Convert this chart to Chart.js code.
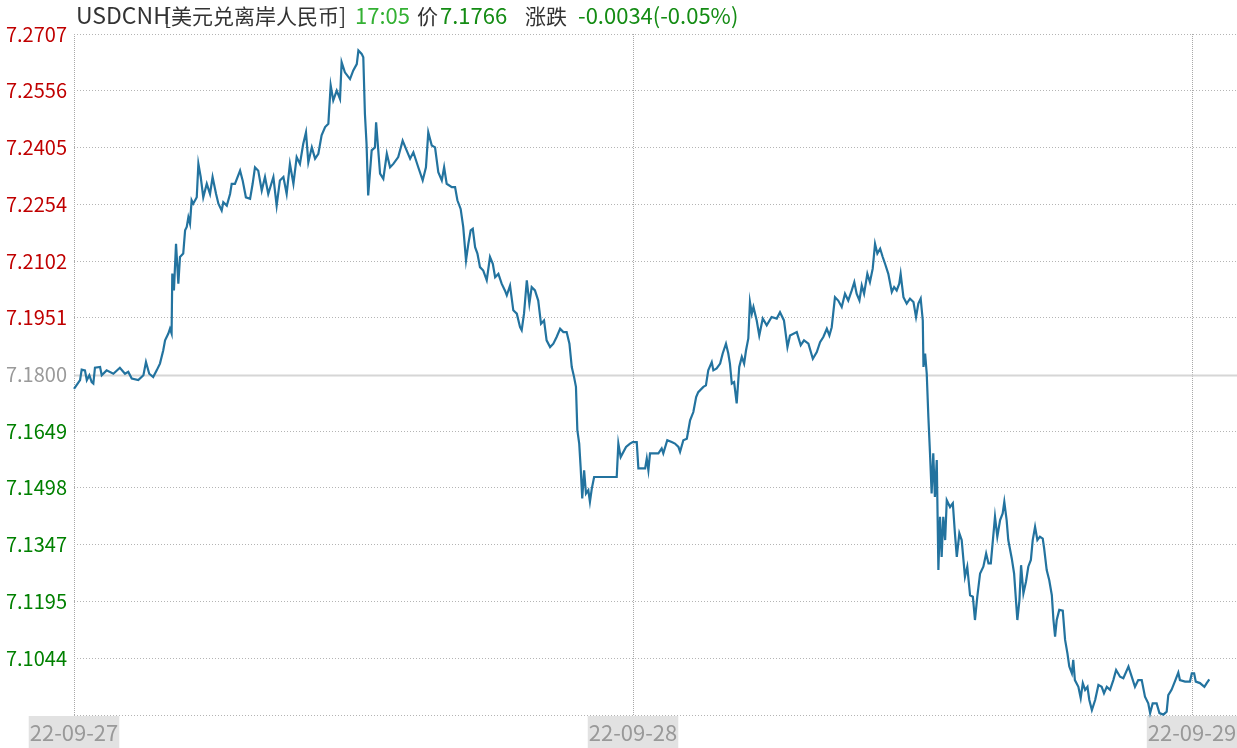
<!DOCTYPE html>
<html lang="zh-CN">
<head>
  <meta charset="UTF-8" />
  <title>USDCNH 美元兑离岸人民币</title>
  <script src="https://cdn.jsdelivr.net/npm/chart.js"></script>
  <style>
    body { margin: 0; background: #fff; }
    #wrap { position: relative; width: 1237px; height: 748px; overflow: hidden; }
    #head {
      position: absolute; left: 76px; top: -3px; height: 34px; line-height: 34px;
      white-space: nowrap; font-family: "Noto Sans CJK SC", sans-serif; font-size: 22px; color: #333;
    }
    #head span { display: inline-block; }
    #head .sym { font-size: 23px; }
    #head .cjk { font-size: 21px; }
    .up { color: #34b134; }
    .dn { color: #148c14; }
  </style>
</head>
<body>
  <div id="wrap">
    <canvas id="fx" width="1237" height="748"></canvas>
    <div id="head">
      <span class="sym" style="width:88px">USDCNH</span><span class="cjk" style="width:191px">[美元兑离岸人民币]</span><span class="up" style="width:62px">17:05</span><span class="cjk" style="width:23px">价</span><span class="dn" style="width:85px">7.1766</span><span class="cjk" style="width:53px">涨跌</span><span class="dn">-0.0034(-0.05%)</span>
    </div>
  </div>

  <script>
    // hours since 22-09-27 00:00
    const hours = [
      0, 0.26, 0.33, 0.47, 0.55, 0.66, 0.76, 0.83, 0.90, 1.12,
      1.19, 1.40, 1.69, 1.97, 2.19, 2.33, 2.48, 2.76, 2.98, 3.09,
      3.23, 3.40, 3.55, 3.69, 3.83, 3.91, 4.05, 4.12, 4.19, 4.22,
      4.29, 4.38, 4.48, 4.55, 4.69, 4.77, 4.84, 4.91, 4.98, 5.05,
      5.12, 5.27, 5.34, 5.44, 5.55, 5.70, 5.84, 5.95, 6.10, 6.20,
      6.34, 6.41, 6.56, 6.70, 6.77, 6.91, 7.13, 7.24, 7.38, 7.56,
      7.67, 7.77, 7.91, 8.06, 8.20, 8.34, 8.56, 8.70, 8.84, 8.99,
      9.13, 9.27, 9.42, 9.56, 9.70, 9.84, 9.96, 10.06, 10.21, 10.35,
      10.49, 10.63, 10.78, 10.92, 11.02, 11.13, 11.28, 11.42, 11.49, 11.63,
      11.85, 11.99, 12.14, 12.21, 12.35, 12.42, 12.49, 12.56, 12.63, 12.78,
      12.92, 12.97, 13.14, 13.28, 13.43, 13.57, 13.71, 13.92, 14.11, 14.28,
      14.43, 14.57, 14.78, 14.97, 15.11, 15.21, 15.36, 15.50, 15.64, 15.79,
      15.89, 16.00, 16.22, 16.36, 16.46, 16.60, 16.71, 16.83, 16.93, 17.03,
      17.12, 17.22, 17.32, 17.43, 17.57, 17.72, 17.86, 17.98, 18.08, 18.22,
      18.36, 18.50, 18.58, 18.72, 18.86, 19.01, 19.15, 19.22, 19.32, 19.44,
      19.55, 19.65, 19.79, 19.93, 20.05, 20.18, 20.29, 20.44, 20.58, 20.72,
      20.87, 21.01, 21.15, 21.27, 21.37, 21.47, 21.55, 21.61, 21.69, 21.75,
      21.82, 21.90, 21.98, 22.08, 22.15, 22.23, 22.33, 23.30, 23.37, 23.47,
      23.70, 23.87, 23.99, 24.16, 24.23, 24.52, 24.59, 24.66, 24.73, 25.09,
      25.23, 25.30, 25.47, 25.66, 25.80, 25.95, 26.02, 26.16, 26.31, 26.45,
      26.59, 26.71, 26.80, 27.02, 27.13, 27.23, 27.38, 27.45, 27.59, 27.74,
      27.85, 27.99, 28.09, 28.16, 28.24, 28.34, 28.45, 28.56, 28.67, 28.77,
      28.85, 28.95, 29.02, 29.10, 29.17, 29.31, 29.42, 29.57, 29.74, 29.95,
      30.17, 30.31, 30.48, 30.63, 30.74, 31.03, 31.20, 31.34, 31.53, 31.72,
      31.89, 32.03, 32.17, 32.32, 32.43, 32.53, 32.67, 32.81, 32.96, 33.10,
      33.24, 33.39, 33.50, 33.60, 33.72, 33.82, 33.92, 34.06, 34.17, 34.29,
      34.39, 34.49, 34.61, 34.72, 34.82, 34.96, 35.11, 35.21, 35.32, 35.43,
      35.49, 35.61, 35.75, 35.89, 36.04, 36.15, 36.25, 36.35, 36.44, 36.47,
      36.54, 36.61, 36.68, 36.75, 36.82, 36.89, 36.96, 37.04, 37.11, 37.18,
      37.25, 37.32, 37.40, 37.47, 37.61, 37.73, 37.82, 37.90, 38.01, 38.11,
      38.25, 38.35, 38.47, 38.59, 38.68, 38.78, 38.90, 39.04, 39.16, 39.26,
      39.36, 39.45, 39.54, 39.64, 39.76, 39.87, 39.94, 40.04, 40.11, 40.26,
      40.36, 40.44, 40.50, 40.59, 40.66, 40.76, 40.87, 40.97, 41.08, 41.16,
      41.26, 41.36, 41.47, 41.59, 41.65, 41.76, 41.87, 41.98, 42.05, 42.12,
      42.19, 42.30, 42.45, 42.55, 42.65, 42.73, 42.84, 42.90, 42.97, 43.12,
      43.22, 43.31, 43.41, 43.51, 43.59, 43.70, 43.84, 43.98, 44.12, 44.22,
      44.34, 44.48, 44.62, 44.74, 44.91, 45.05, 45.27, 45.41, 45.55, 45.69,
      45.84, 45.98, 46.12, 46.20, 46.31, 46.48, 46.60, 46.77, 46.91, 46.98,
      47.12, 47.26, 47.41, 47.48, 47.70, 47.91, 47.99, 48.09, 48.16, 48.34,
      48.53, 48.63, 48.74
    ];

    const prices = [
      7.1762, 7.1785, 7.1813, 7.1811, 7.1785, 7.1798, 7.1780, 7.1776, 7.1818, 7.1820,
      7.1798, 7.1811, 7.1802, 7.1818, 7.1802, 7.1807, 7.1789, 7.1785, 7.1798, 7.1833,
      7.1802, 7.1793, 7.1811, 7.1829, 7.1864, 7.1891, 7.1909, 7.1922, 7.1909, 7.2069,
      7.2024, 7.2148, 7.2042, 7.2113, 7.2122, 7.2184, 7.2193, 7.2219, 7.2202, 7.2264,
      7.2255, 7.2272, 7.2361, 7.2326, 7.2272, 7.2308, 7.2281, 7.2326, 7.2281, 7.2255,
      7.2237, 7.2259, 7.2250, 7.2281, 7.2308, 7.2308, 7.2343, 7.2317, 7.2272, 7.2268,
      7.2308, 7.2352, 7.2343, 7.2290, 7.2326, 7.2281, 7.2326, 7.2250, 7.2317, 7.2326,
      7.2281, 7.2361, 7.2308, 7.2379, 7.2361, 7.2414, 7.2445, 7.2365, 7.2405, 7.2375,
      7.2388, 7.2437, 7.2459, 7.2468, 7.2570, 7.2530, 7.2556, 7.2534, 7.2632, 7.2605,
      7.2587, 7.2610, 7.2627, 7.2663, 7.2654, 7.2645, 7.2494, 7.2414, 7.2277, 7.2397,
      7.2405, 7.2472, 7.2335, 7.2321, 7.2388, 7.2352, 7.2361, 7.2379, 7.2423, 7.2397,
      7.2375, 7.2392, 7.2352, 7.2317, 7.2352, 7.2445, 7.2410, 7.2405, 7.2339, 7.2317,
      7.2352, 7.2308, 7.2299, 7.2299, 7.2264, 7.2241, 7.2193, 7.2104, 7.2148, 7.2184,
      7.2188, 7.2139, 7.2122, 7.2086, 7.2077, 7.2051, 7.2113, 7.2095, 7.2059, 7.2068,
      7.2042, 7.2024, 7.2011, 7.2037, 7.1971, 7.1962, 7.1926, 7.1918, 7.1962, 7.2051,
      7.1989, 7.2033, 7.2024, 7.1997, 7.1935, 7.1944, 7.1891, 7.1873, 7.1882, 7.1900,
      7.1922, 7.1913, 7.1913, 7.1882, 7.1820, 7.1793, 7.1767, 7.1652, 7.1616, 7.1554,
      7.1470, 7.1545, 7.1483, 7.1492, 7.1461, 7.1496, 7.1527, 7.1527, 7.1616, 7.1580,
      7.1607, 7.1616, 7.1620, 7.1620, 7.1550, 7.1550, 7.1576, 7.1545, 7.1590, 7.1590,
      7.1603, 7.1590, 7.1625, 7.1620, 7.1616, 7.1607, 7.1594, 7.1625, 7.1629, 7.1678,
      7.1700, 7.1740, 7.1753, 7.1767, 7.1771, 7.1811, 7.1833, 7.1811, 7.1816, 7.1829,
      7.1856, 7.1882, 7.1856, 7.1829, 7.1776, 7.1780, 7.1723, 7.1820, 7.1847, 7.1829,
      7.1864, 7.1896, 7.1993, 7.1962, 7.1980, 7.1944, 7.1904, 7.1949, 7.1931, 7.1953,
      7.1949, 7.1966, 7.1944, 7.1873, 7.1904, 7.1913, 7.1878, 7.1891, 7.1882, 7.1842,
      7.1860, 7.1886, 7.1900, 7.1922, 7.1904, 7.1926, 7.2006, 7.1997, 7.1980, 7.2015,
      7.1997, 7.2024, 7.2046, 7.2015, 7.1997, 7.2037, 7.2015, 7.2068, 7.2046, 7.2082,
      7.2148, 7.2122, 7.2135, 7.2113, 7.2095, 7.2068, 7.2020, 7.2033, 7.2024, 7.2042,
      7.2068, 7.2006, 7.1989, 7.2002, 7.1993, 7.1953, 7.1989, 7.2002, 7.1944, 7.1820,
      7.1856, 7.1802, 7.1687, 7.1590, 7.1483, 7.1590, 7.1474, 7.1572, 7.1279, 7.1421,
      7.1314, 7.1421, 7.1359, 7.1465, 7.1447, 7.1457, 7.1377, 7.1314, 7.1377, 7.1359,
      7.1261, 7.1288, 7.1212, 7.1208, 7.1146, 7.1208, 7.1270, 7.1288, 7.1323, 7.1297,
      7.1297, 7.1359, 7.1421, 7.1368, 7.1412, 7.1430, 7.1461, 7.1412, 7.1359, 7.1310,
      7.1270, 7.1199, 7.1146, 7.1199, 7.1292, 7.1217, 7.1248, 7.1288, 7.1306, 7.1359,
      7.1394, 7.1359, 7.1368, 7.1363, 7.1337, 7.1279, 7.1252, 7.1212, 7.1146, 7.1102,
      7.1146, 7.1173, 7.1171, 7.1093, 7.1057, 7.1022, 7.1004, 7.1040, 7.0986, 7.0968,
      7.0938, 7.0978, 7.0960, 7.0968, 7.0933, 7.0906, 7.0933, 7.0973, 7.0968, 7.0951,
      7.0968, 7.0960, 7.0986, 7.1013, 7.0995, 7.0991, 7.1022, 7.0995, 7.0968, 7.0986,
      7.0986, 7.0942, 7.0924, 7.0898, 7.0924, 7.0924, 7.0898, 7.0894, 7.0902, 7.0946,
      7.0960, 7.0982, 7.1006, 7.0986, 7.0982, 7.0982, 7.1004, 7.1004, 7.0982, 7.0978,
      7.0968, 7.0978, 7.0988
    ];

    const prevClose = 7.1800;
    const yTicks = [7.2707, 7.2556, 7.2405, 7.2254, 7.2102, 7.1951, 7.1800,
                    7.1649, 7.1498, 7.1347, 7.1195, 7.1044, 7.0893];
    const xTickHours = [0, 24, 48];
    const xTickLabels = ["22-09-27", "22-09-28", "22-09-29"];

    const FONT = '"Noto Sans CJK SC", "Noto Sans", sans-serif';
    const yMin = yTicks[yTicks.length - 1];
    const yMax = yTicks[0];

    // solid line at previous close
    const closeLine = {
      id: "closeLine",
      beforeDatasetsDraw(chart) {
        const { ctx, chartArea, scales } = chart;
        const y = Math.round(scales.y.getPixelForValue(prevClose)) + 0.5;
        ctx.save();
        ctx.strokeStyle = "#d6d6d6";
        ctx.lineWidth = 2;
        ctx.beginPath();
        ctx.moveTo(chartArea.left, y);
        ctx.lineTo(chartArea.right, y);
        ctx.stroke();
        ctx.restore();
      }
    };

    new Chart(document.getElementById("fx"), {
      type: "line",
      data: {
        datasets: [{
          data: hours.map((h, i) => ({ x: h, y: prices[i] })),
          borderColor: "#23739f",
          borderWidth: 2.2,
          pointRadius: 0,
          tension: 0,
          clip: false
        }]
      },
      options: {
        responsive: false,
        animation: false,
        devicePixelRatio: 1,
        layout: { padding: { top: 34, left: 0, right: 0, bottom: 0 } },
        plugins: { legend: { display: false }, tooltip: { enabled: false } },
        scales: {
          x: {
            type: "linear",
            min: 0,
            max: 49.93,
            afterBuildTicks: s => { s.ticks = xTickHours.map(v => ({ value: v })); },
            afterFit: s => { s.height = 33; s.paddingLeft = 0; s.paddingRight = 0; },
            border: { display: false, dash: [1, 1] },
            grid: { color: "#a8a8a8", drawTicks: false },
            ticks: {
              autoSkip: false,
              maxRotation: 0,
              padding: 4,
              color: "#999",
              font: { family: FONT, size: 22 },
              showLabelBackdrop: true,
              backdropColor: "#e2e2e2",
              backdropPadding: { left: 1, right: 1, top: 3, bottom: 3 },
              callback: v => xTickLabels[xTickHours.indexOf(v)]
            }
          },
          y: {
            min: yMin,
            max: yMax,
            afterBuildTicks: s => { s.ticks = yTicks.map(v => ({ value: v })); },
            afterFit: s => { s.width = 74; },
            border: { display: false, dash: [1, 2] },
            grid: {
              drawTicks: false,
              color: c => (c.tick && c.tick.value === prevClose) ? "rgba(0,0,0,0)" : "#b4b4b4"
            },
            ticks: {
              padding: 7,
              font: { family: FONT, size: 20 },
              color: c => c.tick.value > prevClose ? "#c00000" : (c.tick.value === prevClose ? "#9a9a9a" : "#008000"),
              callback: v => v === yMin ? "" : v.toFixed(4)
            }
          }
        }
      },
      plugins: [closeLine]
    });
  </script>
</body>
</html>
